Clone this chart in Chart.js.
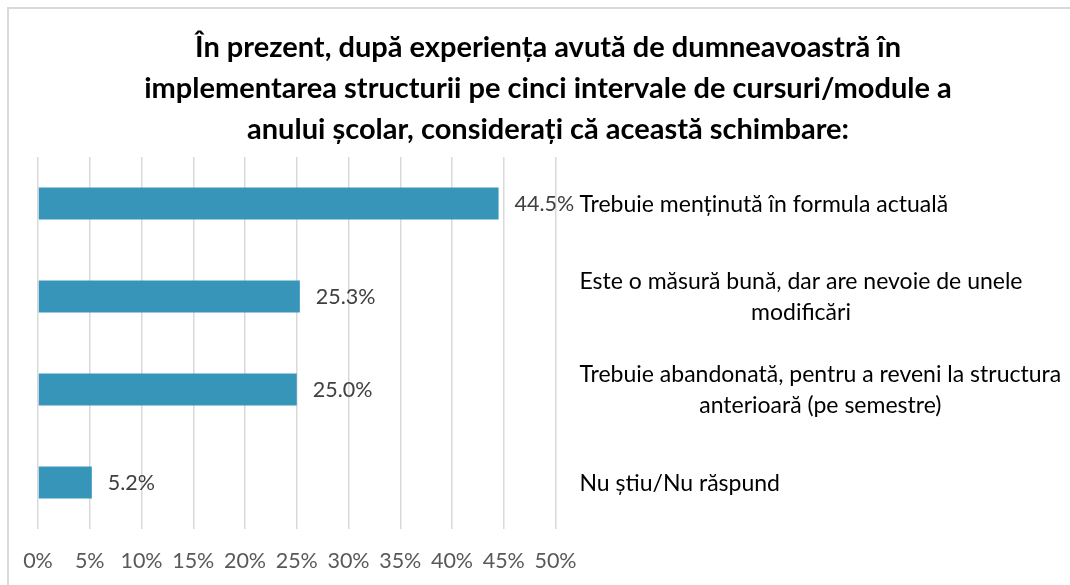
<!DOCTYPE html>
<html>
<head>
<meta charset="utf-8">
<script src="https://cdn.jsdelivr.net/npm/chart.js@4"></script>
<style>
  html, body { margin: 0; padding: 0; background: #ffffff; }
  #wrap { position: relative; width: 1070px; height: 585px; }
  #frame { position: absolute; left: 7px; top: 7px; width: 1070px; height: 600px;
           border-left: 2px solid #d9d9d9; border-top: 2px solid #d9d9d9; box-sizing: border-box; }
  canvas { position: absolute; left: 0; top: 0; }
</style>
</head>
<body>
<div id="wrap">
  <div id="frame"></div>
  <canvas id="c" width="1070" height="585"></canvas>
</div>
<script>
const titleLines = [
  "În prezent, după experiența avută de dumneavoastră în",
  "implementarea structurii pe cinci intervale de cursuri/module a",
  "anului școlar, considerați că această schimbare:"
];
const categories = [
  ["Trebuie menținută în formula actuală"],
  ["Este o măsură bună, dar are nevoie de unele", "modificări"],
  ["Trebuie abandonată, pentru a reveni la structura", "anterioară (pe semestre)"],
  ["Nu știu/Nu răspund"]
];
const values = [44.5, 25.3, 25.0, 5.2];
const tickValues = [0, 5, 10, 15, 20, 25, 30, 35, 40, 45, 50];

const FONT = "Lato, 'Open Sans', sans-serif";

const valueLabels = {
  id: 'valueLabels',
  afterDatasetsDraw(chart) {
    const ctx = chart.ctx;
    const meta = chart.getDatasetMeta(0);
    ctx.save();
    ctx.font = "21.5px " + FONT;
    ctx.fillStyle = '#404040';
    ctx.textAlign = 'left';
    ctx.textBaseline = 'middle';
    meta.data.forEach((bar, i) => {
      ctx.fillText(values[i].toFixed(1) + '%', bar.x + 16, bar.y + 1);
    });
    ctx.restore();
  }
};

const categoryLabels = {
  id: 'categoryLabels',
  afterDraw(chart) {
    const ctx = chart.ctx;
    const y = chart.scales.y;
    const left = chart.chartArea.right + 24;
    const lh = 31;
    ctx.save();
    ctx.font = "23px " + FONT;
    ctx.fillStyle = '#000000';
    ctx.textAlign = 'center';
    ctx.textBaseline = 'middle';
    categories.forEach((lines, i) => {
      const cy = y.getPixelForValue(i);
      const maxW = Math.max(...lines.map(l => ctx.measureText(l).width));
      const cx = left + maxW / 2;
      const top = cy - (lines.length - 1) * lh / 2 + 1;
      lines.forEach((l, k) => ctx.fillText(l, cx, top + k * lh));
    });
    ctx.restore();
  }
};

new Chart(document.getElementById('c'), {
  type: 'bar',
  data: {
    labels: categories,
    datasets: [{
      data: values,
      backgroundColor: '#3795BA',
      borderWidth: 0,
      barPercentage: 0.69,
      categoryPercentage: 0.5
    }]
  },
  options: {
    indexAxis: 'y',
    responsive: false,
    animation: false,
    layout: { padding: { left: 38, right: 12, top: 0, bottom: 0 } },
    plugins: {
      legend: { display: false },
      tooltip: { enabled: false },
      title: {
        display: true,
        text: titleLines,
        color: '#000000',
        font: { family: FONT, size: 29, weight: 'bold', lineHeight: 1.414 },
        padding: { top: 27.5, bottom: 6.5 }
      }
    },
    scales: {
      x: {
        min: 0, max: 50,
        afterBuildTicks(scale) { scale.ticks = tickValues.map(v => ({ value: v })); },
        ticks: {
          color: '#595959',
          font: { family: FONT, size: 21.5 },
          padding: 19,
          maxRotation: 0,
          callback: v => v + '%'
        },
        grid: { color: '#d9d9d9', lineWidth: 1.5, drawTicks: false },
        border: { display: false },
        afterFit(scale) { scale.height = 56; }
      },
      y: {
        position: 'right',
        grid: { display: false },
        border: { display: false },
        ticks: { display: false },
        afterFit(scale) { scale.width = 502.5; }
      }
    }
  },
  plugins: [valueLabels, categoryLabels]
});
</script>
</body>
</html>
